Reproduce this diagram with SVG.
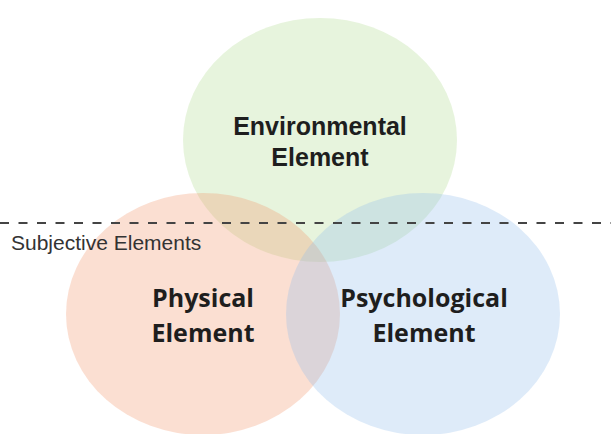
<svg xmlns="http://www.w3.org/2000/svg" width="611" height="434" viewBox="0 0 611 434">
<style>
.c{fill-opacity:0.3}
.t1{font-family:"Liberation Sans",Arial,sans-serif;font-weight:bold;font-size:25px;fill:#1e1e1e;text-anchor:middle}
.t2{font-family:"Open Sans","Noto Sans",sans-serif;font-weight:bold;font-size:25px;fill:#1e1e1e;text-anchor:middle}
.lbl{font-family:"Liberation Sans",Arial,sans-serif;font-size:21px;fill:#333}
</style>
<rect width="611" height="434" fill="#ffffff"/>
<g id="environmental">
<ellipse class="c" cx="320" cy="140" rx="137" ry="122" fill="#afda8e"/>
<text class="t1" x="320" y="135">Environmental</text>
<text class="t1" x="320" y="166">Element</text>
</g>
<g id="physical">
<ellipse class="c" cx="203" cy="314" rx="137" ry="121" fill="#f29469"/>
</g>
<g id="psychological">
<ellipse class="c" cx="423" cy="314" rx="137" ry="121" fill="#91bcec"/>
</g>
<g id="connectors">
<line x1="0" y1="223" x2="611" y2="223" stroke="#444" stroke-width="2" stroke-dasharray="9 9.5" transform="translate(0 0)"/>
</g>
<g id="labels">
<text class="lbl" x="11" y="250">Subjective Elements</text>
<text class="t2" x="203" y="307">Physical</text>
<text class="t2" x="203" y="342">Element</text>
<text class="t2" x="424" y="307">Psychological</text>
<text class="t2" x="424" y="342">Element</text>
</g>
</svg>
